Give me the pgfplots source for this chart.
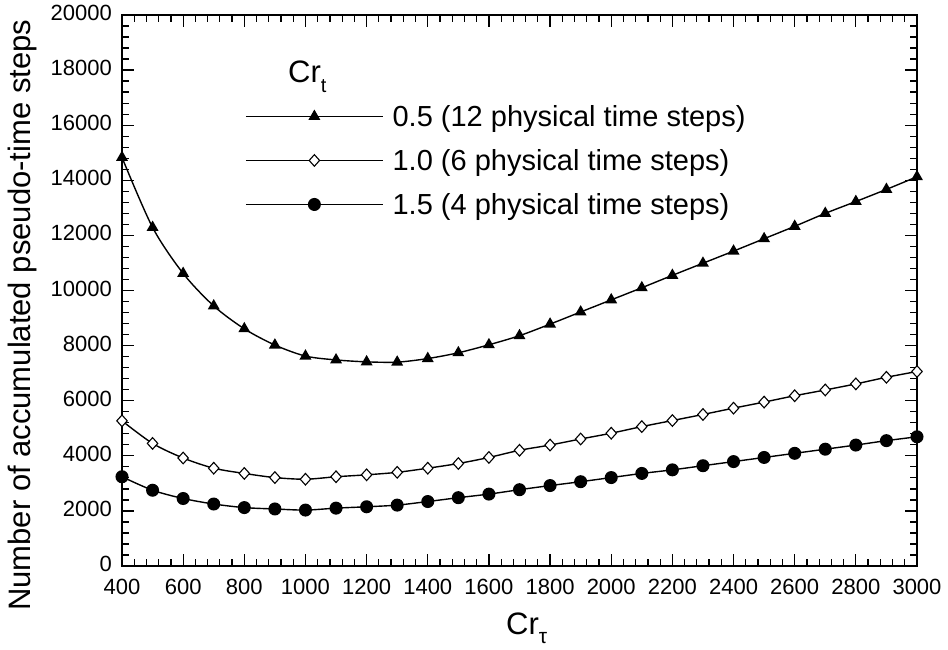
\documentclass[border=0pt]{standalone}
\usepackage{fontspec}
\setmainfont{Liberation Sans}
\usepackage{pgfplots}
\pgfplotsset{compat=1.18}
\begin{document}
\begin{tikzpicture}
\begin{axis}[
  scale only axis, width=795pt, height=551pt,
  xmin=400, xmax=3000, ymin=0, ymax=20000,
  xtick={400,600,...,3000}, ytick={0,2000,...,20000},
  minor x tick num=4, minor y tick num=4,
  tick align=inside,
  major tick length=12pt, minor tick length=7pt,
  tick style={line width=1.3pt, black},
  axis line style={line width=2.4pt},
  ticklabel style={font=\fontsize{22}{22}\selectfont, inner sep=1pt},
  xticklabel style={yshift=-12pt},
  yticklabel style={xshift=-9pt, yshift=2pt},
  /pgf/number format/assume math mode=true,
  /pgf/number format/1000 sep={},
  scaled ticks=false,
  clip=false,
  xlabel={Cr\raisebox{-9pt}{\fontsize{21}{21}\selectfont τ}},
  ylabel={Number of accumulated pseudo-time steps},
  label style={font=\fontsize{31}{31}\selectfont},
  xlabel style={at={(axis description cs:0.509,-0.124)}, anchor=base},
  ylabel style={at={(axis description cs:-0.1157,0.455)}, anchor=base},
  legend style={at={(axis description cs:0.1547,0.8367)}, anchor=north west,
    draw=none, fill=none, inner sep=0pt, nodes={inner sep=0pt},
    column sep=9pt, row sep=21.5pt,
    font=\fontsize{29}{29}\selectfont},
  legend cell align=left,
  legend image code/.code={\draw[mark repeat=2,mark phase=2] plot coordinates {(0pt,0pt) (68.5pt,0pt) (137pt,0pt)};},
]
\addplot[black, line width=1.4pt, smooth, mark=triangle*, mark size=5.5pt, mark options={solid}] coordinates {
(400,14830) (500,12290) (600,10620) (700,9440) (800,8610) (900,8020) (1000,7620)
(1100,7480) (1200,7410) (1300,7400) (1400,7530) (1500,7740) (1600,8030) (1700,8360)
(1800,8780) (1900,9220) (2000,9660) (2100,10100) (2200,10550) (2300,10990) (2400,11430)
(2500,11880) (2600,12330) (2700,12800) (2800,13230) (2900,13670) (3000,14130)};
\addlegendentry{0.5 (12 physical time steps)}
\addplot[black, line width=1.4pt, smooth, mark=diamond*, mark size=5.8pt, mark options={fill=white, xscale=1.2, line width=1.1pt}] coordinates {
(400,5270) (500,4450) (600,3920) (700,3550) (800,3360) (900,3210) (1000,3150)
(1100,3240) (1200,3310) (1300,3400) (1400,3550) (1500,3720) (1600,3940) (1700,4200)
(1800,4390) (1900,4610) (2000,4820) (2100,5060) (2200,5280) (2300,5500) (2400,5730)
(2500,5950) (2600,6180) (2700,6390) (2800,6610) (2900,6850) (3000,7060)};
\addlegendentry{1.0 (6 physical time steps)}
\addplot[black, line width=1.4pt, smooth, mark=*, mark size=5.8pt] coordinates {
(400,3240) (500,2750) (600,2450) (700,2250) (800,2120) (900,2070) (1000,2030)
(1100,2100) (1200,2150) (1300,2210) (1400,2340) (1500,2480) (1600,2610) (1700,2770)
(1800,2920) (1900,3060) (2000,3210) (2100,3360) (2200,3490) (2300,3640) (2400,3790)
(2500,3940) (2600,4090) (2700,4240) (2800,4390) (2900,4550) (3000,4690)};
\addlegendentry{1.5 (4 physical time steps)}
\node[anchor=base west, inner sep=0pt, font=\fontsize{31}{31}\selectfont] at (axis cs:943,17564) {Cr\raisebox{-10pt}{\fontsize{20}{20}\selectfont t}};
\end{axis}
\pgfresetboundingbox
\path (-122pt,-83pt) rectangle (826pt,566pt);
\end{tikzpicture}
\end{document}
